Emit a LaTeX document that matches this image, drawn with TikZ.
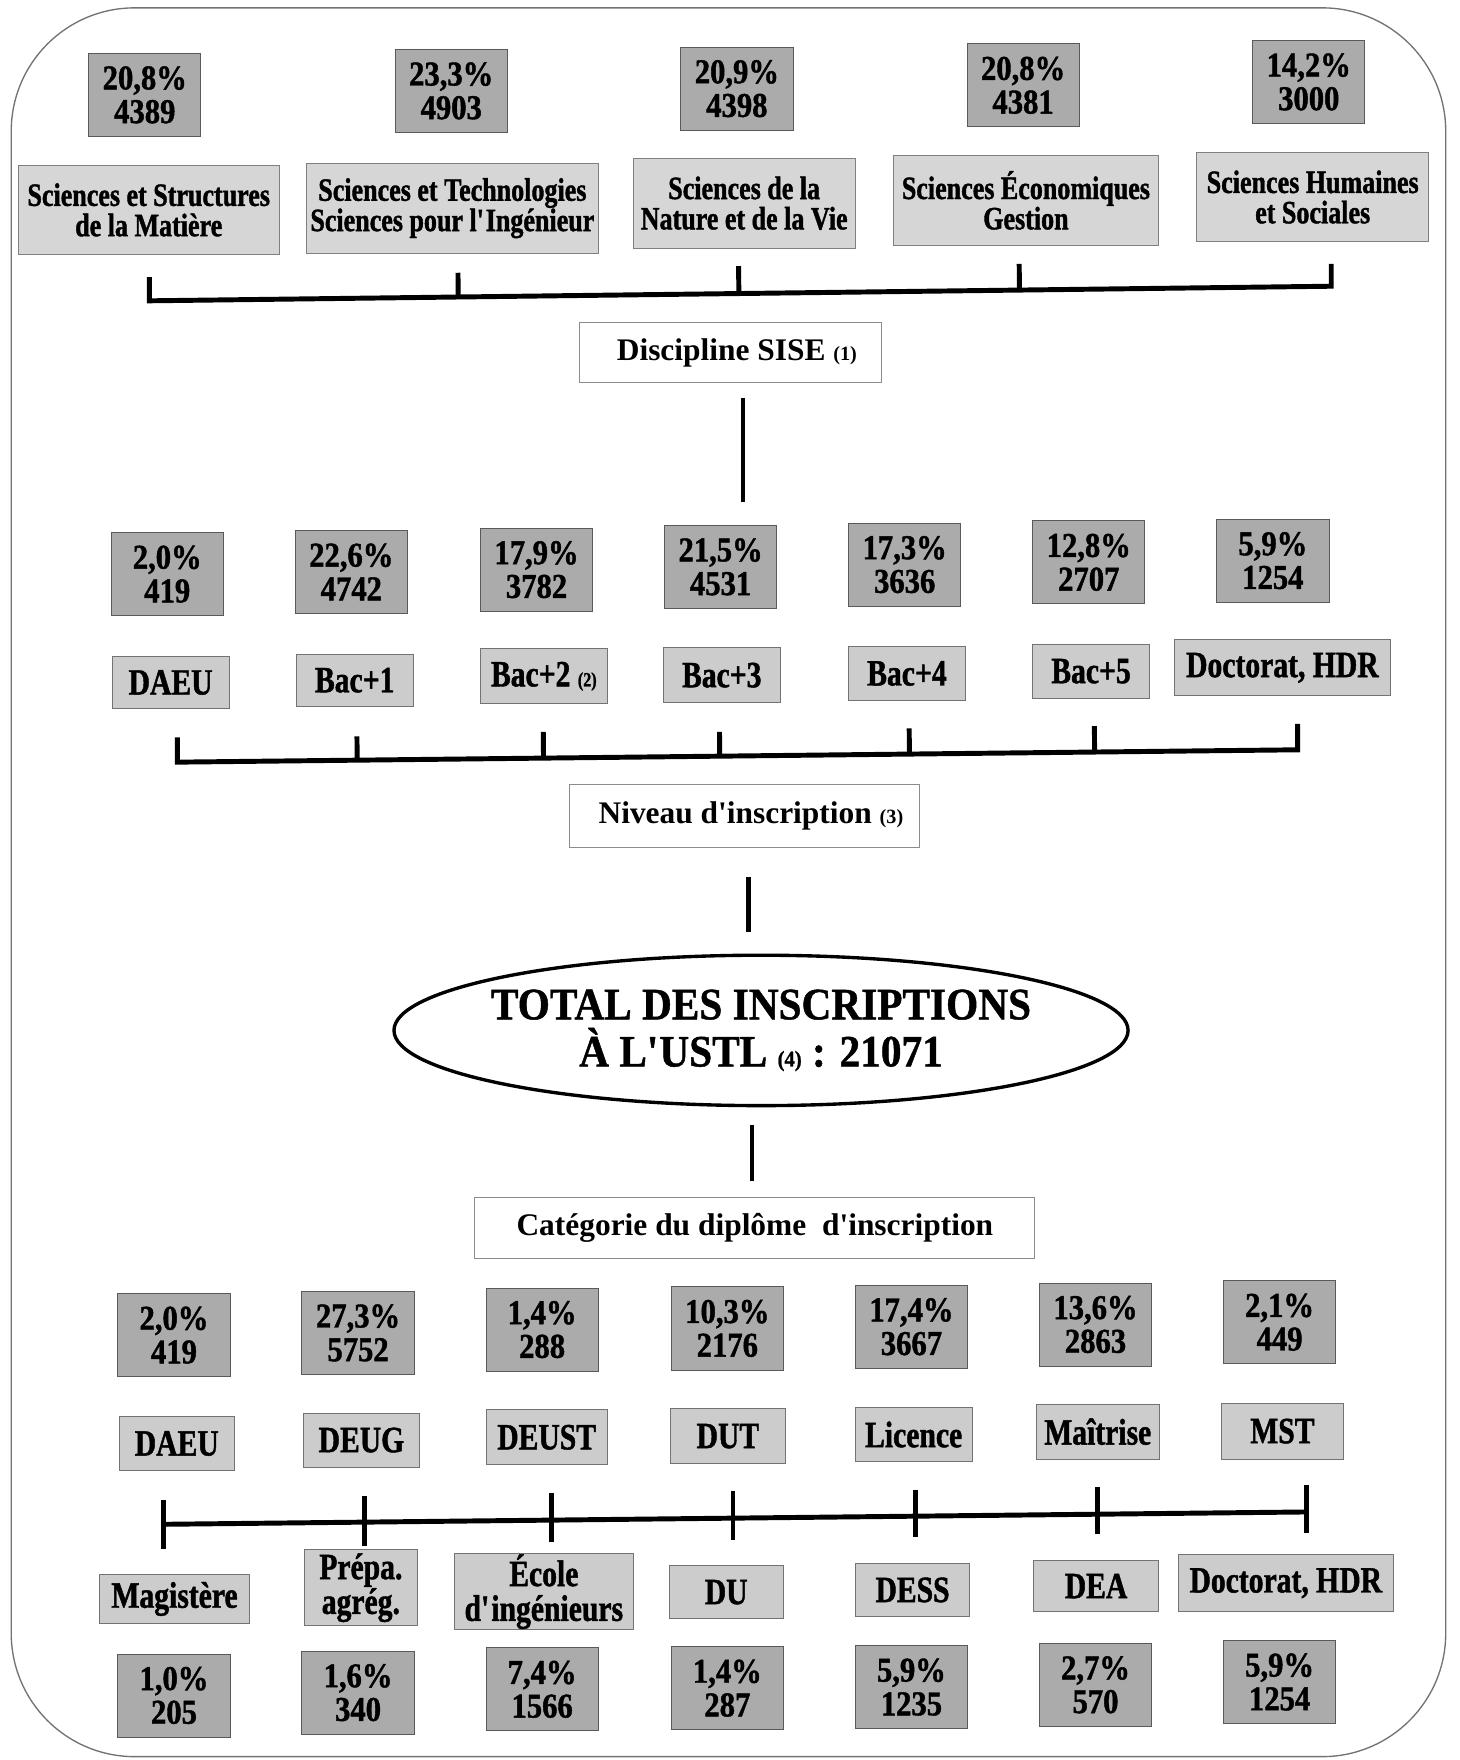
\documentclass[tikz,border=0pt]{standalone}
\usepackage{fontspec}
\setmainfont{Liberation Serif}
\newfontfamily\numfont{Liberation Serif}[FakeStretch=0.88, BoldFeatures={FakeBold=1.2}]
\newfontfamily\labfont{Liberation Serif}[FakeStretch=0.8, BoldFeatures={FakeBold=1.2}]
\newfontfamily\totfont{Liberation Serif}[FakeStretch=0.92, BoldFeatures={FakeBold=1}]
\usetikzlibrary{calc,shapes.geometric}
\newcommand{\apos}{\textquotesingle}
\newcommand{\callout}[1]{{\fontsize{9}{9}\selectfont(#1)}}
\tikzset{
  statbox/.style={draw=black!65, fill=black!33, inner sep=0pt, minimum width=50pt,
    minimum height=37pt, align=center, font=\numfont\bfseries\fontsize{15.5}{15}\selectfont},
  discbox/.style={draw=black!50, fill=black!16, inner sep=0pt, minimum height=40pt,
    align=center, font=\labfont\bfseries\fontsize{14.5}{13.5}\selectfont},
  labbox/.style={draw=black!55, fill=black!20, inner sep=0pt, align=center,
    font=\labfont\bfseries\fontsize{16.5}{15.5}\selectfont},
  headbox/.style={draw=black!45, fill=white, inner sep=0pt, minimum height=27pt,
    font=\bfseries\fontsize{14}{16}\selectfont},
  bar/.style={line width=2.2pt},
  link/.style={line width=2pt},
}
\begin{document}
\begin{tikzpicture}[x=0.5pt, y=-0.5pt]
  \useasboundingbox (0,0) rectangle (1300,1568);
  % frame
  \draw[black!55, line width=0.6pt, rounded corners=55pt] (10,7) rectangle (1288,1565);

  % disciplines
  \foreach \x/\y/\t [count=\i] in {129/84.5/{20,8\%\\4389}, 402/81/{23,3\%\\4903},
      656.5/79/{20,9\%\\4398}, 911.5/76/{20,8\%\\4381}, 1166/73/{14,2\%\\3000}}
    \node[statbox] (discstat-\i) at (\x,\y) {\t};
  \foreach \x/\y/\w/\t [count=\i] in {
      132.5/187/116.5/{Sciences et Structures\\de la Matière},
      403/185.5/130/{Sciences et Technologies\\Sciences pour l\apos Ingénieur},
      663/181/99/{Sciences de la\\Nature et de la Vie},
      914/178.5/118/{Sciences Économiques\\Gestion},
      1169.5/175.5/103.5/{Sciences Humaines\\et Sociales}}
    \node[discbox, minimum width=\w pt] (disc-\i) at (\x,\y) {\t};

  \coordinate (b1l) at (133,268);
  \coordinate (b1r) at (1186,255);
  \foreach \x/\y [count=\i] in {133/247, 408/243, 658/237, 908/235, 1186/235}
    \coordinate (t1-\i) at (\x,\y);
  \draw[bar] (t1-1) -- (b1l) -- (b1r) -- (t1-5);
  \foreach \i in {2,3,4}
    \draw[bar] (t1-\i) -- ($(b1l)!(t1-\i)!(b1r)$);

  \node[headbox, minimum width=134.5pt] (sise) at (650.5,314)
    {\hspace{6pt}Discipline SISE \callout{1}};
  \coordinate (l1a) at (662,355);
  \coordinate (l1b) at (662,447);
  \draw[link] (l1a) -- (l1b);

  % niveaux
  \foreach \x/\y/\t [count=\i] in {149/511.5/{2,0\%\\419}, 313/509.5/{22,6\%\\4742},
      478/507.5/{17,9\%\\3782}, 642/505/{21,5\%\\4531}, 806/503/{17,3\%\\3636},
      970/501/{12,8\%\\2707}, 1134/499.5/{5,9\%\\1254}}
    \node[statbox] (levstat-\i) at (\x,\y) {\t};
  \foreach \x/\y/\w/\h/\t [count=\i] in {152/608/52/23/DAEU, 316/606/52/23/Bac+1,
      484.5/602.5/56.5/24.5/{Bac+2 \callout{2}}, 643/601.5/52/24.5/Bac+3,
      808/600/52/24/Bac+4, 972/598/52/24/Bac+5, 1142.5/595/96.5/25/{Doctorat, HDR}}
    \node[labbox, minimum width=\w pt, minimum height=\h pt] (lev-\i) at (\x,\y) {\t};

  \coordinate (b2l) at (158,679);
  \coordinate (b2r) at (1156,668);
  \foreach \x/\y [count=\i] in {158/657, 318/656, 484/652, 641/652, 810/649, 975/647, 1156/645}
    \coordinate (t2-\i) at (\x,\y);
  \draw[bar] (t2-1) -- (b2l) -- (b2r) -- (t2-7);
  \foreach \i in {2,...,6}
    \draw[bar] (t2-\i) -- ($(b2l)!(t2-\i)!(b2r)$);

  \node[headbox, minimum width=156pt, minimum height=28pt] (niveau) at (663,727)
    {\hspace{6pt}Niveau d\apos inscription \callout{3}};
  \coordinate (l2a) at (667,781);
  \coordinate (l2b) at (667,830);
  \draw[link] (l2a) -- (l2b);

  % total
  \node[draw, ellipse, line width=1.5pt, minimum width=327pt, minimum height=67pt,
    inner xsep=-8pt, inner ysep=0pt, align=center,
    font=\totfont\bfseries\fontsize{20}{21}\selectfont]
    (total) at (678,918)
    {TOTAL DES INSCRIPTIONS\\À L\apos USTL {\fontsize{10}{10}\selectfont(4)} : 21071};
  \coordinate (l3a) at (670,1002);
  \coordinate (l3b) at (670,1052);
  \draw[link] (l3a) -- (l3b);

  % diplomes
  \node[headbox, minimum width=249.5pt] (categorie) at (672.5,1094)
    {Catégorie du diplôme\ \ d\apos inscription};

  \foreach \x/\y/\t [count=\i] in {155/1189.5/{2,0\%\\419}, 319/1187.5/{27,3\%\\5752},
      483/1184.5/{1,4\%\\288}, 648/1183.5/{10,3\%\\2176}, 812/1182/{17,4\%\\3667},
      976/1180/{13,6\%\\2863}, 1140/1178/{2,1\%\\449}}
    \node[statbox] (dipstat-\i) at (\x,\y) {\t};
  \foreach \x/\y/\w/\h/\t [count=\i] in {157.5/1286/51.5/24/DAEU, 322/1283/52/24/DEUG,
      487/1280.5/54/24.5/DEUST, 648.5/1279.5/51.5/24.5/DUT, 814/1278/52/24/Licence,
      978/1275.5/55/24.5/Maîtrise, 1142.5/1275/54.5/25/MST}
    \node[labbox, minimum width=\w pt, minimum height=\h pt] (dip-\i) at (\x,\y) {\t};

  \coordinate (b3l) at (146,1358);
  \coordinate (b3r) at (1164,1347);
  \draw[bar] (b3l) -- (b3r);
  \foreach \x/\ya/\yb [count=\i] in {146/1336/1380, 325/1333/1377, 491/1330/1374,
      653/1328/1372, 816/1327/1369, 978/1325/1367, 1164/1323/1366} {
    \coordinate (t3-\i) at (\x,\ya);
    \coordinate (u3-\i) at (\x,\yb);
    \draw[bar] (t3-\i) -- (u3-\i);
  }

  \foreach \x/\y/\w/\h/\t [count=\i] in {155.5/1424.5/66.5/21.5/Magistère,
      321.5/1414.5/50.5/34/{Prépa.\\agrég.}, 484.5/1418/79.5/34/{École\\d\apos ingénieurs},
      647/1418.5/51/23.5/DU, 813/1416.5/51/23.5/DESS, 976.5/1413/55.5/23/DEA,
      1145.5/1410.5/95.5/25.5/{Doctorat, HDR}}
    \node[labbox, minimum width=\w pt, minimum height=\h pt] (diplow-\i) at (\x,\y) {\t};
  \foreach \x/\y/\t [count=\i] in {155/1510.5/{1,0\%\\205}, 319/1508/{1,6\%\\340},
      483/1505/{7,4\%\\1566}, 648/1504/{1,4\%\\287}, 812/1503/{5,9\%\\1235},
      976/1501/{2,7\%\\570}, 1140/1498.5/{5,9\%\\1254}}
    \node[statbox] (diplowstat-\i) at (\x,\y) {\t};
\end{tikzpicture}
\end{document}
